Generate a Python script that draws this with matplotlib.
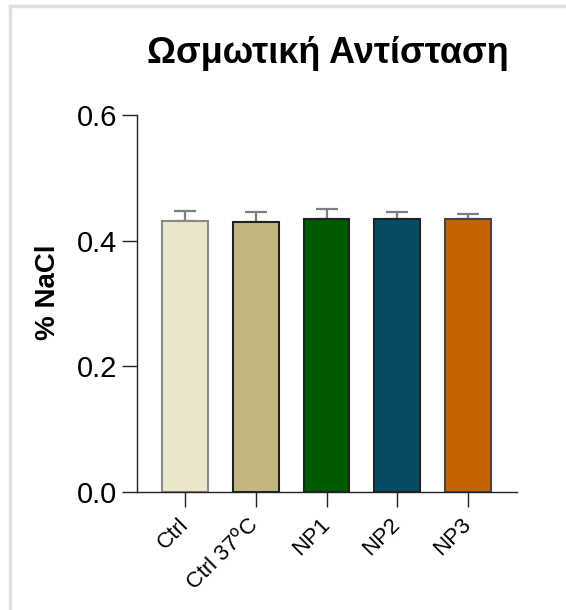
import matplotlib.pyplot as plt
from matplotlib.lines import Line2D
import numpy as np

plt.rcParams['font.family'] = ['Liberation Sans', 'DejaVu Sans']

groups = ['Ctrl', 'Ctrl 37$^{\\mathrm{o}}$C', 'NP1', 'NP2', 'NP3']
means = [0.431, 0.430, 0.434, 0.434, 0.434]
errs = [0.016, 0.015, 0.016, 0.012, 0.009]
fills = ['#ebe5c9', '#c2b780', '#005a00', '#054b63', '#c46200']
edges = ['#8a8a8a', '#222222', '#222222', '#222222', '#444444']

fig = plt.figure(figsize=(5.66, 6.10), dpi=100)
ax = fig.add_axes([0.242, 0.1934, 0.671, 0.6181])

x = np.arange(len(groups))
ax.bar(x, means, width=0.65, color=fills, edgecolor=edges, linewidth=1.5, zorder=2)
ax.errorbar(x, means, yerr=[np.zeros(len(errs)), errs], fmt='none',
            ecolor='#7f7f7f', elinewidth=1.6, capsize=8, capthick=1.6, zorder=1)

ax.set_xlim(-0.68, 4.69)
ax.set_ylim(0, 0.6)
ax.set_yticks([0.0, 0.2, 0.4, 0.6])
ax.set_yticklabels(['0.0', '0.2', '0.4', '0.6'])
ax.set_xticks(x)
ax.set_xticklabels(groups, rotation=45, ha='right', va='center', rotation_mode='anchor')

for s in ['top', 'right']:
    ax.spines[s].set_visible(False)
for s in ['left', 'bottom']:
    ax.spines[s].set_color('#222222')
    ax.spines[s].set_linewidth(1.0)

ax.tick_params(axis='y', length=11, width=1.0, labelsize=21, pad=3, color='#222222')
ax.tick_params(axis='x', length=11, width=1.0, labelsize=16, pad=10, color='#222222')

ax.set_ylabel('% NaCl', fontsize=20, fontweight='bold')
ax.yaxis.set_label_coords(-0.2, 0.53)
fig.text(0.58, 1 - 63 / 610, 'Ωσμωτική Αντίσταση', fontsize=26, fontweight='bold',
         ha='center', va='baseline')

# light frame at top and left
fig.add_artist(Line2D([10 / 566, 1], [1 - 6 / 610, 1 - 6 / 610], color='#e0e0e0', lw=2.5))
fig.add_artist(Line2D([10 / 566, 10 / 566], [0, 1 - 6 / 610], color='#e0e0e0', lw=2.5))

fig.savefig('out.png', dpi=100)
